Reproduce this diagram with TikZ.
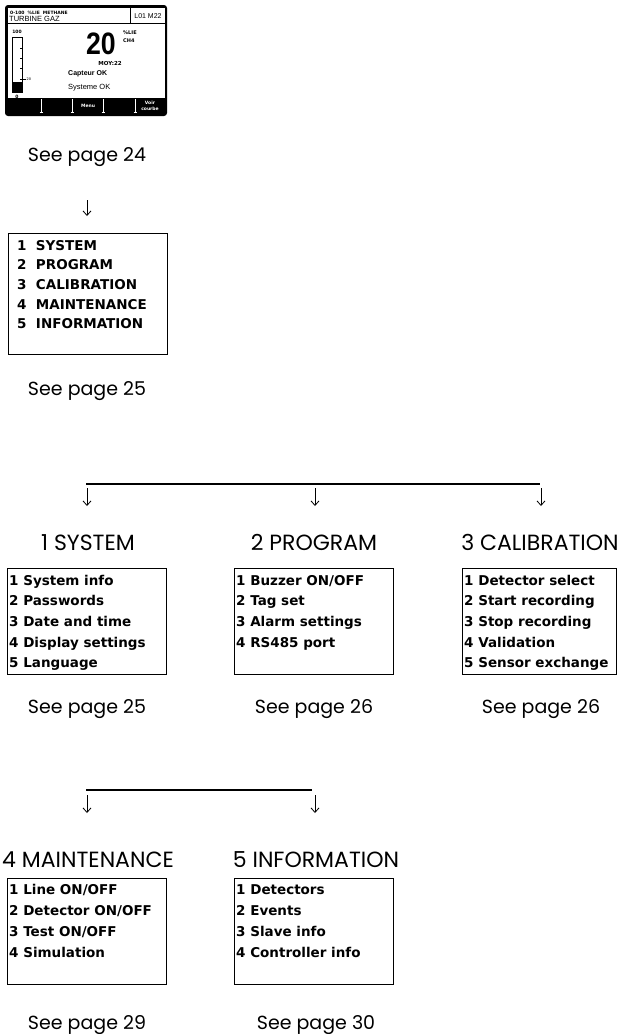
\documentclass[tikz,border=0pt]{standalone}
\usepackage{fontspec}
\setmainfont{Poppins}
\newfontfamily\itemfont{DejaVu Sans}
\newfontfamily\lcdfont{Liberation Sans}
\usetikzlibrary{arrows.meta,calc}

\tikzset{
  menubox/.style={draw,line width=1pt,minimum width=159pt,minimum height=106pt,inner sep=0pt,anchor=north west},
  item/.style={anchor=base west,inner sep=0pt,font=\itemfont\bfseries\fontsize{13.5}{15}\selectfont},
  heading/.style={anchor=base,inner sep=0pt,font=\fontsize{22}{24}\selectfont},
  seepage/.style={anchor=base,inner sep=0pt,font=\fontsize{19}{21}\selectfont},
  pointer/.style={-{Straight Barb[length=4.5pt,width=8pt]},line width=0.8pt},
  branch/.style={line width=1.6pt},
  tiny/.style={inner sep=0pt,font=\itemfont\bfseries\fontsize{4.5}{5}\selectfont}
}

\begin{document}
\begin{tikzpicture}[x=1pt,y=-1pt]
\useasboundingbox (0,0) rectangle (617,1034);

% LCD screen
\fill[black,rounded corners=3pt] (5,5) rectangle (167,116);
\fill[white] (8,8) rectangle (165,98);
\draw[line width=1pt] (8,23) -- (165,23);
\draw[line width=1pt] (130,8) -- (130,23);
\node[tiny,anchor=west] (scrtop) at (10,12.5) {0-100\ \ \%LIE\ \ METHANE};
\node[inner sep=0pt,anchor=west,font=\lcdfont\fontsize{7.5}{8}\selectfont] (scrname) at (9,19) {TURBINE GAZ};
\node[inner sep=0pt,font=\lcdfont\fontsize{7}{8}\selectfont] (scrline) at (148,16) {L01 M22};
\node[tiny] (scrmax) at (17,32) {100};
\draw[line width=0.8pt] (12,37) rectangle (22,92);
\fill[black] (12,82) rectangle (22,92);
\foreach \y in {48,58,68}
  \draw[line width=0.5pt] (20,\y) -- (22,\y);
\draw[line width=0.5pt] (20,79) -- (26,79);
\node[inner sep=0pt,anchor=west,font=\itemfont\fontsize{3.5}{4}\selectfont] (scrtwenty) at (26.5,79) {20};
\node[tiny] (scrmin) at (17,96.5) {0};
\node[inner sep=0pt,xscale=0.86,font=\lcdfont\bfseries\fontsize{31}{31}\selectfont] (scrvalue) at (101,44) {20};
\node[tiny,anchor=west,font=\itemfont\bfseries\fontsize{5}{6}\selectfont] (scrunit) at (123,33) {\%LIE};
\node[tiny,anchor=west,font=\itemfont\bfseries\fontsize{5}{6}\selectfont] (scrgas) at (123,40.5) {CH4};
\node[tiny,font=\itemfont\bfseries\fontsize{5.5}{6}\selectfont] (scrmoy) at (110,63) {MOY:22};
\node[inner sep=0pt,anchor=west,font=\lcdfont\bfseries\fontsize{7}{8}\selectfont] (scrcapt) at (68,74) {Capteur OK};
\node[inner sep=0pt,anchor=west,font=\lcdfont\fontsize{7.5}{8}\selectfont] (scrsys) at (68,88) {Systeme OK};
\foreach \x in {41,72,103,135} {
  \draw[white,line width=0.7pt] (\x,99) -- (\x,112);
  \draw[white,line width=0.7pt] (\x-1.5,112) -- (\x+1.5,112);
}
\node[tiny,white] (keymenu) at (88,106) {Menu};
\node[tiny,white,align=center,font=\itemfont\bfseries\fontsize{4.5}{6}\selectfont] (keycurve) at (150,106) {Voir\\courbe};
\node[seepage] (see24) at (87,161) {See page 24};

% main menu
\coordinate (top1) at (87,200);
\coordinate (top2) at (87,216);
\draw[pointer] (top1) -- (top2);
\node[menubox,minimum height=121pt] (mainmenu) at (8,233) {};
\foreach \t [count=\i] in {1~ SYSTEM,2~ PROGRAM,3~ CALIBRATION,4~ MAINTENANCE,5~ INFORMATION}
  \node[item] at ($(mainmenu.north west)+(9,{17+19.7*(\i-1)})$) {\t};
\node[seepage] (see25) at (87,395) {See page 25};

% first branch
\coordinate (br1w) at (86,484);
\coordinate (br1e) at (540,484);
\draw[branch] (br1w) -- (br1e);
\foreach \x/\n in {87/a,315/b,541/c} {
  \coordinate (\n1) at (\x,488);
  \coordinate (\n2) at (\x,506);
  \draw[pointer] (\n1) -- (\n2);
}
\node[heading] (hsys) at (88,550) {1 SYSTEM};
\node[heading] (hprog) at (314,550) {2 PROGRAM};
\node[heading] (hcal) at (540,550) {3 CALIBRATION};

\node[menubox] (sys) at (7,568) {};
\foreach \t [count=\i] in {1 System info,2 Passwords,3 Date and time,4 Display settings,5 Language}
  \node[item] at ($(sys.north west)+(2,{17+20.7*(\i-1)})$) {\t};
\node[menubox] (prog) at (234,568) {};
\foreach \t [count=\i] in {1 Buzzer ON/OFF,2 Tag set,3 Alarm settings,4 RS485 port}
  \node[item] at ($(prog.north west)+(2,{17+20.7*(\i-1)})$) {\t};
\node[menubox,minimum width=154pt] (cal) at (462,568) {};
\foreach \t [count=\i] in {1 Detector select,2 Start recording,3 Stop recording,4 Validation,5 Sensor exchange}
  \node[item] at ($(cal.north west)+(2,{17+20.7*(\i-1)})$) {\t};

\node[seepage] (see25b) at (87,713) {See page 25};
\node[seepage] (see26) at (314,713) {See page 26};
\node[seepage] (see26b) at (541,713) {See page 26};

% second branch
\coordinate (br2w) at (86,790);
\coordinate (br2e) at (312,790);
\draw[branch] (br2w) -- (br2e);
\foreach \x/\n in {87/d,315/e} {
  \coordinate (\n1) at (\x,795);
  \coordinate (\n2) at (\x,813);
  \draw[pointer] (\n1) -- (\n2);
}
\node[heading] (hmaint) at (88,867) {4 MAINTENANCE};
\node[heading] (hinfo) at (316,867) {5 INFORMATION};

\node[menubox] (maint) at (7,878) {};
\foreach \t [count=\i] in {1 Line ON/OFF,2 Detector ON/OFF,3 Test ON/OFF,4 Simulation}
  \node[item] at ($(maint.north west)+(2,{16+21*(\i-1)})$) {\t};
\node[menubox] (info) at (234,878) {};
\foreach \t [count=\i] in {1 Detectors,2 Events,3 Slave info,4 Controller info}
  \node[item] at ($(info.north west)+(2,{16+21*(\i-1)})$) {\t};

\node[seepage] (see29) at (87,1029) {See page 29};
\node[seepage] (see30) at (316,1029) {See page 30};
\end{tikzpicture}
\end{document}
